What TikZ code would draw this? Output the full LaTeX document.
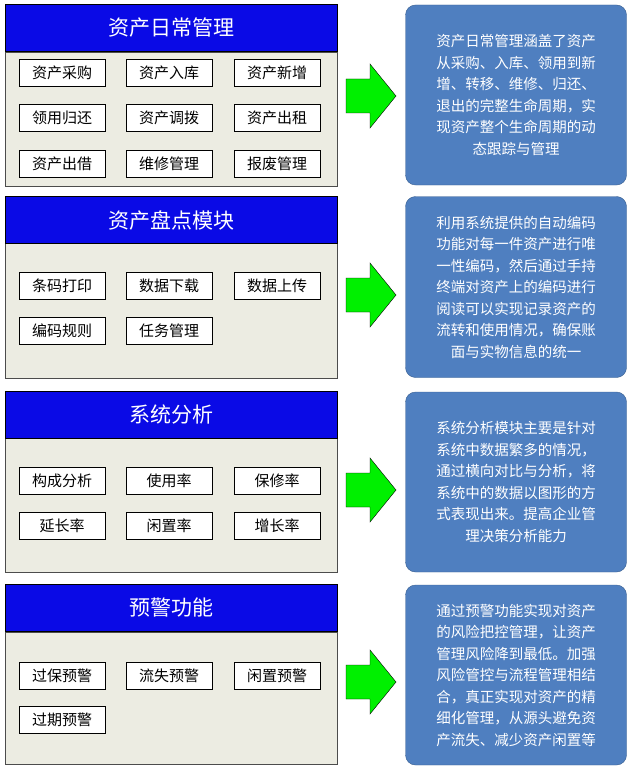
\documentclass[tikz,border=0pt]{standalone}
\usepackage{fontspec}
\newfontfamily\cjk{Noto Sans CJK SC}
\usetikzlibrary{positioning}
\definecolor{hdblue}{HTML}{0A0AE6}
\definecolor{bodygray}{HTML}{ECECE2}
\definecolor{noteblue}{HTML}{4F7FC0}
\definecolor{noteedge}{HTML}{3A5F8F}
\definecolor{arrgreen}{HTML}{00F000}
\tikzset{
  hd/.style={draw=black,fill=hdblue,text=white,minimum width=332pt,minimum height=47pt,inner sep=0pt,font=\cjk\fontsize{21}{24}\selectfont},
  bd/.style={draw=black!70,fill=bodygray},
  itm/.style={draw=black,fill=white,minimum width=86pt,minimum height=27pt,inner sep=0pt,font=\cjk\fontsize{15}{18}\selectfont},
  note/.style={draw=noteedge,fill=noteblue,rounded corners=10pt,text=white,align=center,minimum width=221pt,font=\cjk\fontsize{14.5}{21.5}\selectfont},
}
\newcommand{\grarrow}[1]{\draw[black,fill=arrgreen] (346,#1-17) -- (370,#1-17) -- (370,#1-32) -- (396,#1) -- (370,#1+32) -- (370,#1+17) -- (346,#1+17) -- cycle;}
\begin{document}
\begin{tikzpicture}[x=1pt,y=-1pt]
  \useasboundingbox (0,0) rectangle (632,770);
  % panel 1
  \draw[bd] (5,52) rectangle (337,186);
  \node[hd] (h1) at (171,28) {资产日常管理};
  \node[itm] (a1) at (62,73) {资产采购};
  \node[itm] (a2) at (169,73) {资产入库};
  \node[itm] (a3) at (277,73) {资产新增};
  \node[itm] (a4) at (62,118) {领用归还};
  \node[itm] (a5) at (169,118) {资产调拨};
  \node[itm] (a6) at (277,118) {资产出租};
  \node[itm] (a7) at (62,164) {资产出借};
  \node[itm] (a8) at (169,164) {维修管理};
  \node[itm] (a9) at (277,164) {报废管理};
  \grarrow{96}
  \node[note,minimum height=180pt] (n1) at (516,95) {资产日常管理涵盖了资产\\从采购、入库、领用到新\\增、转移、维修、归还、\\退出的完整生命周期，实\\现资产整个生命周期的动\\态跟踪与管理};
  % panel 2
  \draw[bd] (5,243) rectangle (337,378);
  \node[hd] (h2) at (171,220) {资产盘点模块};
  \node[itm] (b1) at (62,286) {条码打印};
  \node[itm] (b2) at (169,286) {数据下载};
  \node[itm] (b3) at (277,286) {数据上传};
  \node[itm] (b4) at (62,331) {编码规则};
  \node[itm] (b5) at (169,331) {任务管理};
  \grarrow{295}
  \node[note,minimum height=181pt] (n2) at (516,287) {利用系统提供的自动编码\\功能对每一件资产进行唯\\一性编码，然后通过手持\\终端对资产上的编码进行\\阅读可以实现记录资产的\\流转和使用情况，确保账\\面与实物信息的统一};
  % panel 3
  \draw[bd] (5,438) rectangle (337,572);
  \node[hd] (h3) at (171,415) {系统分析};
  \node[itm] (c1) at (62,481) {构成分析};
  \node[itm] (c2) at (169,481) {使用率};
  \node[itm] (c3) at (277,481) {保修率};
  \node[itm] (c4) at (62,526) {延长率};
  \node[itm] (c5) at (169,526) {闲置率};
  \node[itm] (c6) at (277,526) {增长率};
  \grarrow{490}
  \node[note,minimum height=180pt] (n3) at (516,482) {系统分析模块主要是针对\\系统中数据繁多的情况，\\通过横向对比与分析，将\\系统中的数据以图形的方\\式表现出来。提高企业管\\理决策分析能力};
  % panel 4
  \draw[bd] (5,632) rectangle (337,764);
  \node[hd] (h4) at (171,608) {预警功能};
  \node[itm] (d1) at (62,676) {过保预警};
  \node[itm] (d2) at (169,676) {流失预警};
  \node[itm] (d3) at (277,676) {闲置预警};
  \node[itm] (d4) at (62,720) {过期预警};
  \grarrow{682}
  \node[note,minimum height=180pt] (n4) at (516,675) {通过预警功能实现对资产\\的风险把控管理，让资产\\管理风险降到最低。加强\\风险管控与流程管理相结\\合，真正实现对资产的精\\细化管理，从源头避免资\\产流失、减少资产闲置等};
\end{tikzpicture}
\end{document}
